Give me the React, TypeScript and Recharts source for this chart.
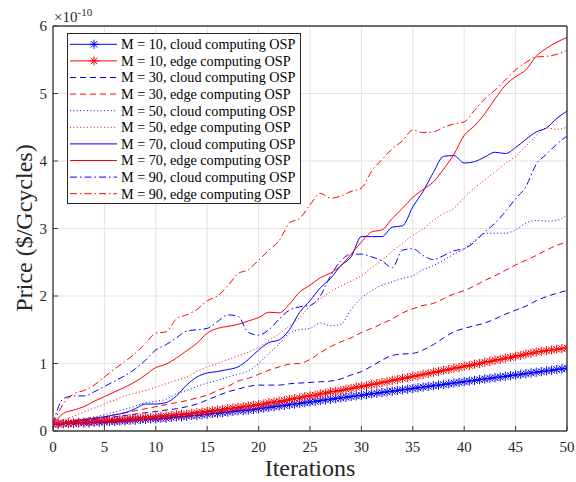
import React from "react";
import { CartesianGrid, Legend, Line, LineChart, XAxis, YAxis } from "recharts";

const xTicks = [0, 5, 10, 15, 20, 25, 30, 35, 40, 45, 50];
const yTicks = [0, 1, 2, 3, 4, 5, 6];

// price in units of 1e-10 $/Gcycles, one value per iteration 0..50
const m30Cloud = [
  0.1, 0.11, 0.13, 0.15, 0.17, 0.19, 0.21, 0.23, 0.25, 0.27, 0.29,
  0.31, 0.33, 0.36, 0.4, 0.46, 0.52, 0.58, 0.62, 0.66, 0.68,
  0.68, 0.68, 0.7, 0.71, 0.72, 0.73, 0.74, 0.77, 0.83, 0.88,
  0.96, 1.05, 1.12, 1.14, 1.15, 1.2, 1.28, 1.38, 1.47, 1.52,
  1.56, 1.6, 1.66, 1.73, 1.79, 1.85, 1.93, 1.99, 2.04, 2.08,
];
const m30Edge = [
  0.1, 0.12, 0.14, 0.16, 0.19, 0.21, 0.24, 0.27, 0.3, 0.33, 0.36,
  0.39, 0.42, 0.45, 0.49, 0.53, 0.6, 0.66, 0.74, 0.78, 0.84,
  0.9, 0.95, 0.99, 1.0, 1.06, 1.16, 1.25, 1.32, 1.38, 1.46,
  1.52, 1.59, 1.66, 1.75, 1.81, 1.86, 1.89, 1.96, 2.03, 2.08,
  2.15, 2.23, 2.3, 2.38, 2.46, 2.53, 2.6, 2.68, 2.75, 2.8,
];
const m50Cloud = [
  0.1, 0.12, 0.15, 0.18, 0.21, 0.24, 0.28, 0.32, 0.37, 0.42, 0.44,
  0.47, 0.55, 0.6, 0.66, 0.71, 0.75, 0.8, 0.84, 0.89, 1.0,
  1.15, 1.29, 1.45, 1.5, 1.52, 1.6, 1.56, 1.58, 1.8, 1.97,
  2.08, 2.16, 2.21, 2.26, 2.3, 2.39, 2.45, 2.53, 2.62, 2.7,
  2.82, 2.93, 2.93, 2.93, 2.98, 3.08, 3.12, 3.11, 3.12, 3.2,
];
const m50Edge = [
  0.1, 0.16, 0.22, 0.28, 0.34, 0.4, 0.46, 0.52, 0.56, 0.6, 0.65,
  0.7, 0.75, 0.8, 0.88, 0.95, 1.0, 1.06, 1.11, 1.17, 1.24,
  1.34, 1.44, 1.56, 1.68, 1.85, 1.96, 2.06, 2.15, 2.22, 2.3,
  2.42, 2.53, 2.66, 2.78, 2.9, 2.99, 3.12, 3.22, 3.3, 3.46,
  3.6, 3.72, 3.84, 3.96, 4.07, 4.22, 4.37, 4.49, 4.47, 4.5,
];
const m70Cloud = [
  0.1, 0.12, 0.15, 0.17, 0.19, 0.21, 0.24, 0.27, 0.33, 0.4, 0.4,
  0.42, 0.52, 0.68, 0.8, 0.86, 0.88, 0.91, 0.95, 1.06, 1.2,
  1.31, 1.35, 1.5, 1.76, 1.93, 2.12, 2.26, 2.45, 2.58, 2.88,
  2.88, 2.88, 3.02, 3.04, 3.32, 3.55, 3.83, 4.07, 4.08, 3.97,
  3.99, 4.06, 4.13, 4.11, 4.2, 4.32, 4.43, 4.49, 4.63, 4.74,
];
const m70Edge = [
  0.1, 0.26, 0.31, 0.36, 0.44, 0.51, 0.58, 0.65, 0.73, 0.83, 0.94,
  0.99, 1.08, 1.19, 1.3, 1.45, 1.52, 1.55, 1.58, 1.63, 1.68,
  1.76, 1.75, 1.88, 2.06, 2.16, 2.27, 2.34, 2.45, 2.62, 2.8,
  2.95, 2.98, 3.15, 3.3, 3.46, 3.58, 3.69, 3.88, 4.1, 4.38,
  4.52, 4.7, 4.92, 5.12, 5.25, 5.35, 5.55, 5.67, 5.76, 5.83,
];
const m90Cloud = [
  0.1, 0.48, 0.52, 0.52, 0.58, 0.66, 0.74, 0.82, 0.92, 1.05, 1.2,
  1.28, 1.38, 1.48, 1.5, 1.52, 1.62, 1.72, 1.7, 1.46, 1.42,
  1.5, 1.66, 1.79, 1.84, 1.86, 2.0, 2.3, 2.52, 2.62, 2.62,
  2.58, 2.52, 2.42, 2.68, 2.7, 2.6, 2.54, 2.6, 2.67, 2.7,
  2.8, 2.95, 3.08, 3.25, 3.44, 3.62, 3.95, 4.1, 4.25, 4.37,
];
const m90Edge = [
  0.1, 0.4, 0.55, 0.6, 0.68, 0.8, 0.92, 1.03, 1.15, 1.3, 1.45,
  1.47, 1.66, 1.72, 1.8, 1.93, 2.0, 2.15, 2.33, 2.39, 2.53,
  2.68, 2.82, 3.08, 3.15, 3.35, 3.52, 3.45, 3.48, 3.55, 3.6,
  3.85, 4.02, 4.18, 4.3, 4.46, 4.42, 4.43, 4.5, 4.55, 4.58,
  4.75, 4.92, 5.05, 5.2, 5.35, 5.46, 5.54, 5.55, 5.58, 5.64,
];

// M = 10 runs are sampled every half iteration (0, 0.5, ..., 50)
const m10Cloud = [
  0.1, 0.1, 0.11, 0.11, 0.11, 0.12, 0.12, 0.12, 0.13, 0.13,
  0.13, 0.14, 0.14, 0.15, 0.15, 0.16, 0.16, 0.17, 0.17, 0.18,
  0.18, 0.19, 0.19, 0.2, 0.21, 0.21, 0.22, 0.23, 0.23, 0.24,
  0.25, 0.26, 0.26, 0.27, 0.28, 0.29, 0.3, 0.3, 0.31, 0.32,
  0.33, 0.34, 0.35, 0.36, 0.37, 0.38, 0.39, 0.4, 0.41, 0.42,
  0.43, 0.44, 0.45, 0.46, 0.47, 0.48, 0.49, 0.5, 0.51, 0.52,
  0.53, 0.54, 0.55, 0.56, 0.57, 0.58, 0.59, 0.6, 0.61, 0.62,
  0.63, 0.64, 0.65, 0.66, 0.67, 0.68, 0.69, 0.7, 0.71, 0.72,
  0.73, 0.74, 0.75, 0.76, 0.77, 0.78, 0.79, 0.8, 0.81, 0.82,
  0.83, 0.84, 0.85, 0.86, 0.87, 0.88, 0.89, 0.9, 0.91, 0.92,
  0.93,
];
const m10Edge = [
  0.1, 0.11, 0.11, 0.12, 0.12, 0.13, 0.13, 0.14, 0.14, 0.15,
  0.15, 0.16, 0.16, 0.17, 0.17, 0.18, 0.19, 0.19, 0.2, 0.2,
  0.21, 0.22, 0.22, 0.23, 0.24, 0.25, 0.25, 0.26, 0.27, 0.28,
  0.29, 0.3, 0.31, 0.32, 0.33, 0.34, 0.35, 0.36, 0.37, 0.38,
  0.39, 0.4, 0.42, 0.43, 0.44, 0.45, 0.47, 0.48, 0.49, 0.51,
  0.52, 0.53, 0.55, 0.56, 0.58, 0.59, 0.6, 0.62, 0.63, 0.65,
  0.66, 0.67, 0.69, 0.7, 0.72, 0.73, 0.75, 0.76, 0.78, 0.79,
  0.81, 0.82, 0.84, 0.85, 0.87, 0.88, 0.9, 0.91, 0.93, 0.94,
  0.96, 0.97, 0.99, 1.0, 1.02, 1.03, 1.05, 1.06, 1.08, 1.09,
  1.11, 1.12, 1.14, 1.15, 1.17, 1.18, 1.19, 1.2, 1.21, 1.22,
  1.23,
];

const BLUE = "#0000ff";
const RED = "#ff0000";
const FONT = "'Liberation Serif', 'Times New Roman', serif";

type Style = "star" | "dash" | "dot" | "solid" | "dashdot";
const dashes: Record<Style, string | undefined> = {
  star: undefined,
  solid: undefined,
  dash: "6 4",
  dot: "1 2.4",
  dashdot: "7 3 1.5 3",
};

const series = [
  { key: "m10c", name: "M = 10, cloud computing OSP", color: BLUE, style: "star" as Style, fine: m10Cloud },
  { key: "m10e", name: "M = 10, edge computing OSP", color: RED, style: "star" as Style, fine: m10Edge },
  { key: "m30c", name: "M = 30, cloud computing OSP", color: BLUE, style: "dash" as Style, values: m30Cloud },
  { key: "m30e", name: "M = 30, edge computing OSP", color: RED, style: "dash" as Style, values: m30Edge },
  { key: "m50c", name: "M = 50, cloud computing OSP", color: BLUE, style: "dot" as Style, values: m50Cloud },
  { key: "m50e", name: "M = 50, edge computing OSP", color: RED, style: "dot" as Style, values: m50Edge },
  { key: "m70c", name: "M = 70, cloud computing OSP", color: BLUE, style: "solid" as Style, values: m70Cloud },
  { key: "m70e", name: "M = 70, edge computing OSP", color: RED, style: "solid" as Style, values: m70Edge },
  { key: "m90c", name: "M = 90, cloud computing OSP", color: BLUE, style: "dashdot" as Style, values: m90Cloud },
  { key: "m90e", name: "M = 90, edge computing OSP", color: RED, style: "dashdot" as Style, values: m90Edge },
];

const rows = m10Cloud.map((_, k) => {
  const row: Record<string, number | null> = { x: k / 2 };
  for (const s of series) {
    if (s.fine) row[s.key] = s.fine[k];
    else row[s.key] = k % 2 === 0 ? s.values![k / 2] : null;
  }
  return row;
});

function starPath(cx: number, cy: number, r: number) {
  const d = r * 0.72;
  return `M${cx} ${cy - r}V${cy + r}M${cx - r} ${cy}H${cx + r}M${cx - d} ${cy - d}L${cx + d} ${cy + d}M${cx - d} ${cy + d}L${cx + d} ${cy - d}`;
}

const starDot = (color: string) => (props: any) => {
  const { cx, cy, index } = props;
  if (cx == null || cy == null) return <g key={`s${index}`} />;
  return <path key={`s${index}`} d={starPath(cx, cy, 4.6)} stroke={color} strokeWidth={1} fill="none" />;
};

function LegendBox() {
  const w = 234;
  const h = 171;
  return (
    <svg width={w} height={h} style={{ display: "block" }}>
      <rect x={0.5} y={0.5} width={w - 1} height={h - 1} fill="#fff" stroke="#262626" strokeWidth={1} />
      {series.map((s, i) => {
        const y = 11.3 + i * 16.6;
        return (
          <g key={s.key}>
            <line x1={3} x2={50} y1={y} y2={y} stroke={s.color} strokeWidth={1} strokeDasharray={dashes[s.style]} />
            {s.style === "star" && <path d={starPath(27, y, 4.6)} stroke={s.color} strokeWidth={1} fill="none" />}
            <text x={54} y={y} dy="0.35em" fontFamily={FONT} fontSize={14.2} fill="#000">
              {s.name}
            </text>
          </g>
        );
      })}
    </svg>
  );
}

export default function App() {
  return (
    <div style={{ position: "absolute", left: 0, top: 0, width: 576, height: 482, background: "#fff" }}>
      <LineChart width={576} height={482} data={rows} margin={{ top: 0, right: 0, bottom: 0, left: 0 }}>
        <CartesianGrid stroke="#e2e2e2" strokeWidth={1} />
        <XAxis
          dataKey="x"
          type="number"
          domain={[0, 50]}
          ticks={xTicks}
          allowDataOverflow
          height={51}
          tickSize={-5}
          tickMargin={15}
          stroke="#404040"
          strokeWidth={1.4}
          tick={{ fontFamily: FONT, fontSize: 15, fill: "#262626" }}
          tickLine={{ stroke: "#404040", strokeWidth: 1 }}
        />
        <XAxis
          xAxisId="top"
          orientation="top"
          dataKey="x"
          type="number"
          domain={[0, 50]}
          ticks={xTicks}
          allowDataOverflow
          height={26}
          tickSize={-5}
          tick={false}
          stroke="#404040"
          strokeWidth={1.4}
          tickLine={{ stroke: "#404040", strokeWidth: 1 }}
        />
        <YAxis
          type="number"
          domain={[0, 6]}
          ticks={yTicks}
          allowDataOverflow
          width={53}
          tickSize={-5}
          tickMargin={11}
          stroke="#404040"
          strokeWidth={1.4}
          tick={{ fontFamily: FONT, fontSize: 15, fill: "#262626" }}
          tickLine={{ stroke: "#404040", strokeWidth: 1 }}
        />
        <YAxis
          yAxisId="right"
          orientation="right"
          type="number"
          domain={[0, 6]}
          ticks={yTicks}
          allowDataOverflow
          width={9}
          tickSize={-5}
          tick={false}
          stroke="#404040"
          strokeWidth={1.4}
          tickLine={{ stroke: "#404040", strokeWidth: 1 }}
        />
        <Legend
          layout="vertical"
          align="center"
          verticalAlign="middle"
          wrapperStyle={{ left: 67, top: 33, width: 234, height: 171 }}
          content={() => <LegendBox />}
        />
        {series.map((s) =>
          s.style === "star" ? (
            <Line
              key={s.key}
              dataKey={s.key}
              name={s.name}
              type="linear"
              stroke={s.color}
              strokeWidth={1}
              dot={starDot(s.color)}
              isAnimationActive={false}
            />
          ) : (
            <Line
              key={s.key}
              dataKey={s.key}
              name={s.name}
              type="monotone"
              connectNulls
              stroke={s.color}
              strokeWidth={1}
              strokeDasharray={dashes[s.style]}
              dot={false}
              isAnimationActive={false}
            />
          )
        )}
      </LineChart>
      <svg width={576} height={482} style={{ position: "absolute", left: 0, top: 0, pointerEvents: "none" }}>
        <text x={310} y={476} textAnchor="middle" fontFamily={FONT} fontSize={24} fill="#262626">
          Iterations
        </text>
        <text
          transform="translate(32,228) rotate(-90)"
          textAnchor="middle"
          fontFamily={FONT}
          fontSize={24}
          fill="#262626"
        >
          Price ($/Gcycles)
        </text>
        <text x={54} y={22} fontFamily={FONT} fontSize={15} fill="#262626">
          ×10
          <tspan dy={-6} fontSize={11}>
            -10
          </tspan>
        </text>
      </svg>
    </div>
  );
}
